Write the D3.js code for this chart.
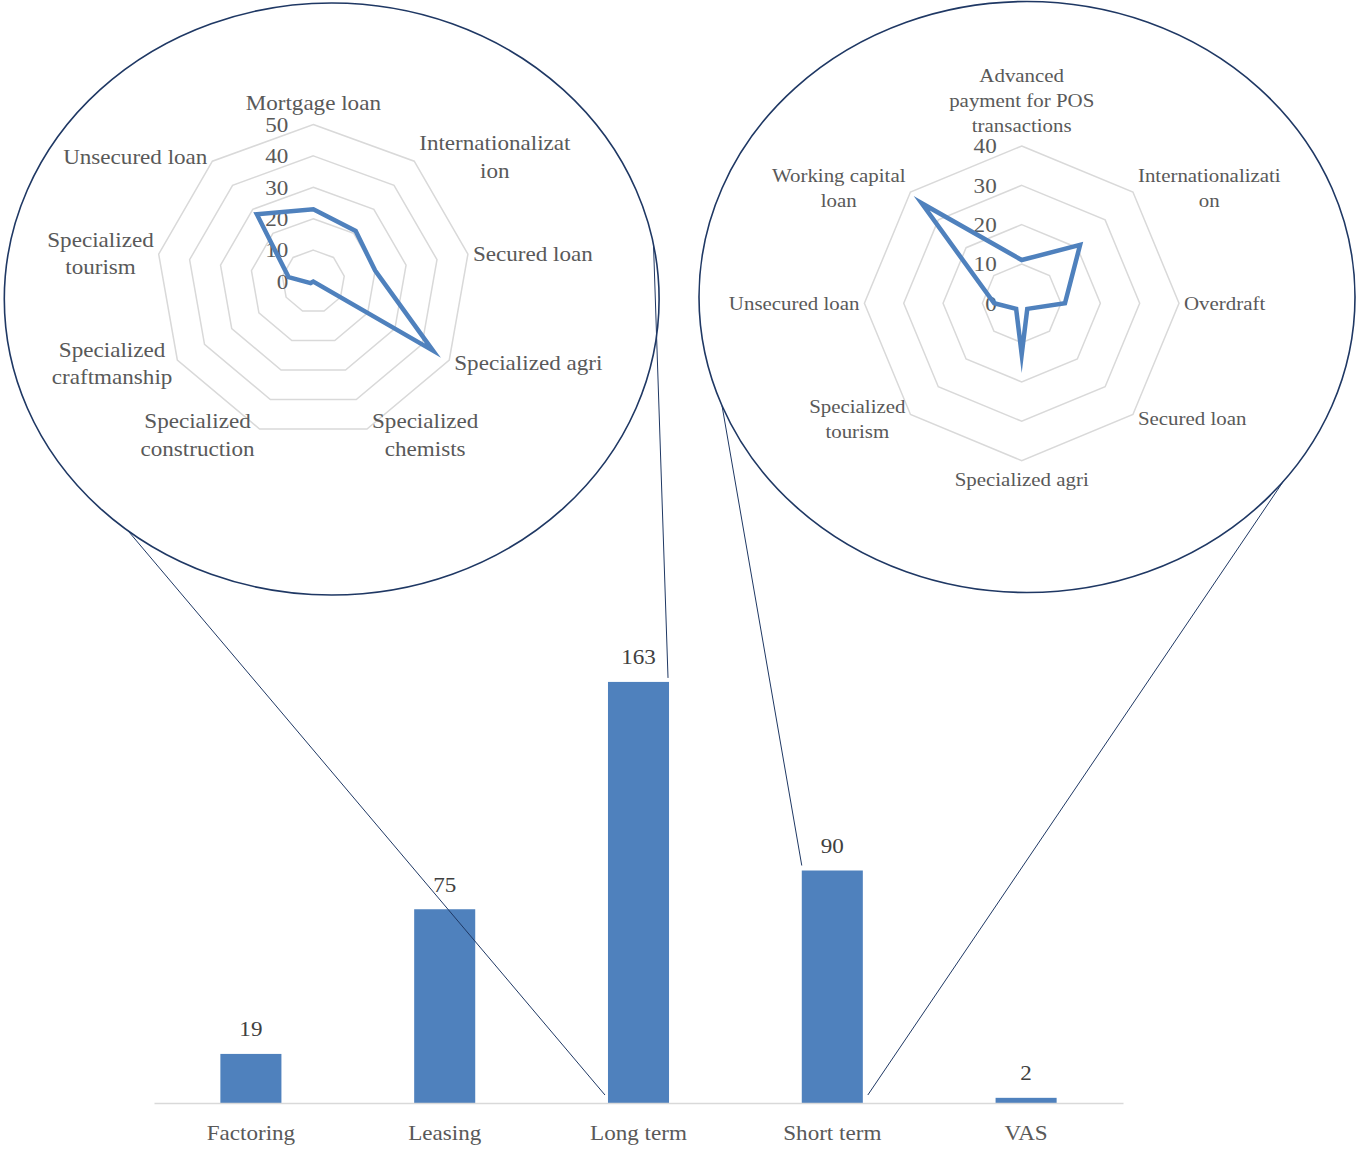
<!DOCTYPE html>
<html>
<head>
<meta charset="utf-8">
<script src="https://cdn.jsdelivr.net/npm/d3@7"></script>
<style>
  html, body { margin: 0; padding: 0; background: #fff; }
  svg { display: block; }
  text { font-family: "Liberation Serif", "Times New Roman", serif; }
</style>
</head>
<body>
<script>
// Product portfolio: number of products per family
const barCategories = ["Factoring", "Leasing", "Long term", "Short term", "VAS"];
const barValues = [19, 75, 163, 90, 2];

// Long term products broken down by type
const longTermLabels = [
  ["Mortgage loan"],
  ["Internationalizat", "ion"],
  ["Secured loan"],
  ["Specialized agri"],
  ["Specialized", "chemists"],
  ["Specialized", "construction"],
  ["Specialized", "craftmanship"],
  ["Specialized", "tourism"],
  ["Unsecured loan"]
];
const longTermValues = [23, 21, 20, 44, 0, 0, 1, 8, 28];
const longTermTicks = [0, 10, 20, 30, 40, 50];

// Short term products broken down by type
const shortTermLabels = [
  ["Advanced", "payment for POS", "transactions"],
  ["Internationalizati", "on"],
  ["Overdraft"],
  ["Secured loan"],
  ["Specialized agri"],
  ["Specialized", "tourism"],
  ["Unsecured loan"],
  ["Working capital", "loan"]
];
const shortTermValues = [11, 21, 11, 2, 13, 2, 7, 36];
const shortTermTicks = [0, 10, 20, 30, 40];

const W = 1356, H = 1151;
const SX = 1.1;               // horizontal text stretch
const BLUE = "#4F81BD", GRID = "#D9D9D9", NAVY = "#1F3864", TEXT = "#595959";

const svg = d3.select("body").append("svg")
  .attr("width", W).attr("height", H);
svg.append("rect").attr("width", W).attr("height", H).attr("fill", "#fff");

function addText(g, x, y, str, size, anchor, fill) {
  return g.append("text")
    .attr("transform", `translate(${x},${y}) scale(${SX},1)`)
    .attr("text-anchor", anchor)
    .attr("dy", "0.35em")
    .attr("font-size", size)
    .attr("fill", fill || TEXT)
    .text(str);
}

// ---------- bar chart ----------
const x = d3.scaleBand().domain(barCategories).range([154, 1123]).padding(0);
const y = d3.scaleLinear().domain([0, 180]).range([1103, 638]);
const barW = x.bandwidth() * 0.315;
const barLeft = c => x(c) + (x.bandwidth() - barW) / 2;

const bars = svg.append("g");
bars.selectAll("rect").data(barCategories).join("rect")
  .attr("x", d => barLeft(d))
  .attr("width", barW)
  .attr("y", (d, i) => y(barValues[i]))
  .attr("height", (d, i) => y(0) - y(barValues[i]))
  .attr("fill", BLUE);

barCategories.forEach((c, i) => {
  addText(bars, x(c) + x.bandwidth() / 2, y(barValues[i]) - 25, String(barValues[i]), 21, "middle", "#404040");
});

const axis = svg.append("g")
  .attr("transform", `translate(0,${y(0)})`)
  .call(d3.axisBottom(x).tickSize(0).tickSizeOuter(0));
axis.select(".domain").attr("stroke", GRID).attr("stroke-width", 1.5);
axis.selectAll(".tick text")
  .attr("y", 30).attr("dy", "0.35em")
  .attr("font-size", 21)
  .attr("font-family", "Liberation Serif, Times New Roman, serif")
  .attr("fill", TEXT)
  .attr("transform", `scale(${SX},1)`);

// ---------- radar charts ----------
function radar(opts) {
  const { cx, cy, radius, max, labels, values, ticks, labelSize, lineH, topGap } = opts;
  const n = labels.length;
  const r = d3.scaleLinear().domain([0, max]).range([0, radius]);
  const ang = i => i * 2 * Math.PI / n;
  const pt = (i, v) => [cx + r(v) * Math.sin(ang(i)), cy - r(v) * Math.cos(ang(i))];
  const g = svg.append("g");

  // rings
  ticks.filter(t => t > 0).forEach(t => {
    g.append("path")
      .attr("d", d3.line()(d3.range(n).map(i => pt(i, t))) + "Z")
      .attr("fill", "none").attr("stroke", GRID).attr("stroke-width", 1.5);
  });

  // tick labels
  ticks.forEach(t => addText(g, cx - 25, cy - r(t), String(t), 21, "end"));

  // series
  g.append("path")
    .attr("d", d3.line()(values.map((v, i) => pt(i, v))) + "Z")
    .attr("fill", "none").attr("stroke", BLUE).attr("stroke-width", 4.5)
    .attr("stroke-linejoin", "miter").attr("stroke-miterlimit", 10);

  // category labels
  labels.forEach((lines, i) => {
    const a = ang(i);
    const [vx, vy] = pt(i, max);
    const deg = Math.round(a * 180 / Math.PI);
    const nodes = lines.map(s => addText(g, 0, 0, s, labelSize, "middle"));
    const bw = d3.max(nodes, nd => nd.node().getComputedTextLength()) * SX;
    let bx, firstY;
    if (deg === 0) {
      bx = vx; firstY = vy - topGap - (lines.length - 1) * lineH;
    } else if (deg === 180) {
      bx = vx; firstY = vy + 19;
    } else {
      bx = deg < 180 ? vx + 5 + bw / 2 : vx - 5 - bw / 2;
      const by = vy - 6 * Math.cos(a);
      firstY = by - (lines.length - 1) * lineH / 2;
    }
    nodes.forEach((nd, k) =>
      nd.attr("transform", `translate(${bx},${firstY + k * lineH}) scale(${SX},1)`));
  });
}

radar({ cx: 313.3, cy: 281.5, radius: 157, max: 50,
  labels: longTermLabels, values: longTermValues, ticks: longTermTicks,
  labelSize: 21, lineH: 27.5, topGap: 21.5 });

radar({ cx: 1021.7, cy: 303.3, radius: 157.3, max: 40,
  labels: shortTermLabels, values: shortTermValues, ticks: shortTermTicks,
  labelSize: 19, lineH: 24.9, topGap: 20.5 });

// ---------- zoom callouts ----------
const leftE = { cx: 331.7, cy: 299, rx: 327.4, ry: 296 };
const rightE = { cx: 1027, cy: 297, rx: 328, ry: 295.5 };
const onEllipse = (e, deg) => [e.cx + e.rx * Math.cos(deg * Math.PI / 180),
                               e.cy + e.ry * Math.sin(deg * Math.PI / 180)];

const callouts = svg.append("g");
[leftE, rightE].forEach(e => callouts.append("ellipse")
  .attr("cx", e.cx).attr("cy", e.cy).attr("rx", e.rx).attr("ry", e.ry)
  .attr("fill", "none").attr("stroke", NAVY).attr("stroke-width", 1.6));

const lt = "Long term", st = "Short term";
const links = [
  [onEllipse(leftE, 128.5), [barLeft(lt) - 3, y(0) - 8]],
  [onEllipse(leftE, -10.6), [barLeft(lt) + barW - 1, y(barValues[2]) - 4]],
  [onEllipse(rightE, 158.4), [barLeft(st), y(barValues[3]) - 5]],
  [onEllipse(rightE, 38.6), [barLeft(st) + barW + 5, y(0) - 8]]
];
links.forEach(([a, b]) => callouts.append("line")
  .attr("x1", a[0]).attr("y1", a[1]).attr("x2", b[0]).attr("y2", b[1])
  .attr("stroke", NAVY).attr("stroke-width", 1));
</script>
</body>
</html>
